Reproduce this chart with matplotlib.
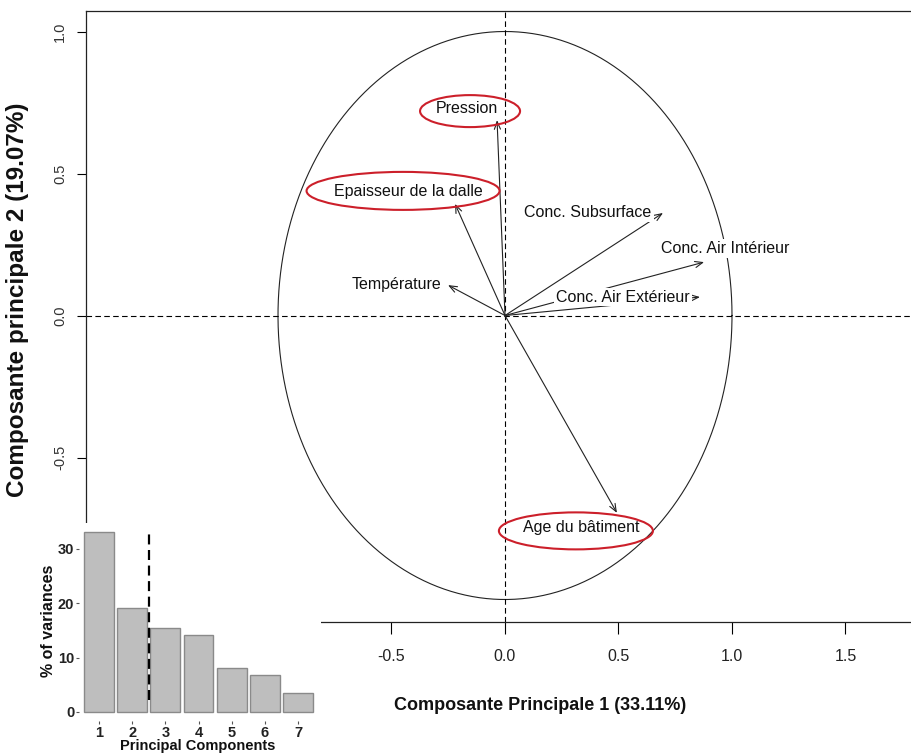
import numpy as np
import matplotlib
matplotlib.use("Agg")
import matplotlib.pyplot as plt
from matplotlib.patches import Ellipse, Rectangle

plt.rcParams['font.family'] = ['Liberation Sans', 'DejaVu Sans']

# ---------------- data ----------------
variables = ["Pression", "Epaisseur de la dalle", "Conc. Subsurface",
             "Conc. Air Intérieur", "Conc. Air Extérieur", "Température",
             "Age du bâtiment"]
pc1 = [-0.035, -0.220, 0.696, 0.877, 0.859, -0.251, 0.493]
pc2 = [0.688, 0.393, 0.361, 0.188, 0.065, 0.107, -0.695]
highlighted = ["Pression", "Epaisseur de la dalle", "Age du bâtiment"]

components = [1, 2, 3, 4, 5, 6, 7]
variances = [33.11, 19.07, 15.4, 14.1, 8.1, 6.8, 3.5]
cutoff = 2.5

xlabel_main = "Composante Principale 1 (33.11%)"
ylabel_main = "Composante principale 2 (19.07%)"
xticks_main = [-0.5, 0.0, 0.5, 1.0, 1.5]
yticks_main = [-0.5, 0.0, 0.5, 1.0]
inset_yticks = [0, 10, 20, 30]
inset_xlabel = "Principal Components"
inset_ylabel = "% of variances"

# ---------------- layout (pixels) ----------------
W, H = 912, 754
fig = plt.figure(figsize=(W / 100, H / 100), dpi=100)


def px_rect(l, t, r, b):
    return [l / W, 1 - b / H, (r - l) / W, (b - t) / H]


X0, SX, Y0, SY = 505, 227, 315.5, 284   # pixel origin and scale of the main plot

ax = fig.add_axes(px_rect(86, 11, 926, 621.7))
ax.set_xlim((86 - X0) / SX, (926 - X0) / SX)
ax.set_ylim((Y0 - 621.7) / SY, (Y0 - 11) / SY)
ax.set_zorder(0)

# label offsets from arrow tips (pixels) and highlight ellipse geometry
label_offsets = [(-30, 12), (-47, 12), (-75, 0), (21, 14), (-77, 0), (-52, 1), (-36, -15)]
ell_shift = {"Pression": (3, -3, 100, 32),
             "Epaisseur de la dalle": (-5, 1, 193, 38),
             "Age du bâtiment": (-5, -3, 154, 37)}

# unit circle
t = np.linspace(0, 2 * np.pi, 400)
ax.plot(np.cos(t), np.sin(t), color='#222222', lw=0.8, zorder=1)

# dashed axes through origin
ax.axhline(0, color='black', lw=0.8, ls=(0, (5, 3)), zorder=1)
ax.axvline(0, color='black', lw=0.8, ls=(0, (5, 3)), zorder=1)

for name, x, y, (dx, dy) in zip(variables, pc1, pc2, label_offsets):
    ax.annotate('', xy=(x, y), xytext=(0, 0),
                arrowprops=dict(arrowstyle='->,head_length=0.55,head_width=0.22',
                                lw=0.8, color='#222222', shrinkA=0, shrinkB=0),
                zorder=2)
    ax.annotate(name, xy=(x, y), xytext=(dx, dy), textcoords='offset pixels',
                ha='center', va='center', fontsize=11.5, color='#111111',
                bbox=dict(boxstyle='square,pad=0.12', fc='white', ec='none'),
                zorder=4)
    if name in highlighted:
        sx, sy, ew, eh = ell_shift[name]
        cx = x + (dx + sx) / SX
        cy = y + (dy + sy) / SY
        ax.add_patch(Ellipse((cx, cy), ew / SX, eh / SY, fill=False,
                             ec='#CC1F2A', lw=1.5, zorder=5))

ax.set_xticks(xticks_main)
ax.set_xticklabels([f"{v:.1f}" for v in xticks_main])
ax.set_yticks(yticks_main)
ax.set_yticklabels([f"{v:.1f}" for v in yticks_main])
ax.tick_params(axis='x', direction='out', length=8.5, width=0.8, pad=11,
               labelsize=11.5, labelcolor='#222222')
ax.tick_params(axis='y', direction='out', length=6.5, width=0.8, pad=7,
               labelsize=10.5, labelcolor='#333333', labelrotation=90)
for lab in ax.get_yticklabels():
    lab.set_va('center')
for s in ax.spines.values():
    s.set_linewidth(0.9)
    s.set_color('#222222')

fig.text(540 / W, 1 - 706 / H, xlabel_main, ha='center', va='center',
         fontsize=13, fontweight='bold', color='#111111')
fig.text(18 / W, 1 - 300 / H, ylabel_main, ha='center', va='center',
         rotation=90, fontsize=17.5, fontweight='bold', color='#111111')

# ---------------- inset scree plot ----------------
fig.add_artist(Rectangle((0, 0), 321 / W, (H - 524) / H, transform=fig.transFigure,
                         fc='white', ec='none', zorder=1))

axi = fig.add_axes(px_rect(79, 523, 318, 721))
axi.set_zorder(3)
axi.set_facecolor('white')
axi.bar(components, variances, width=0.9, color='#BEBEBE', edgecolor='#8A8A8A', lw=1.0)
axi.vlines(cutoff, 2.2, 33.0, colors='black', lw=1.6, linestyles=[(0, (4.5, 2.5))])
axi.set_xlim(0.4, 7.6)
axi.set_ylim(-1.66, 34.77)
for s in axi.spines.values():
    s.set_visible(False)
axi.set_xticks(components)
axi.set_yticks(inset_yticks)
axi.tick_params(axis='both', length=2.5, width=0.8, color='#555555', pad=1,
                labelsize=10.5, labelcolor='#222222')
for lab in axi.get_xticklabels() + axi.get_yticklabels():
    lab.set_fontweight('bold')

fig.text(198 / W, 1 - 746 / H, inset_xlabel, ha='center', va='center',
         fontsize=10.5, fontweight='bold', color='#111111', zorder=4)
fig.text(49 / W, 1 - 621 / H, inset_ylabel, ha='center', va='center', rotation=90,
         fontsize=11.5, fontweight='bold', color='#111111', zorder=4)

fig.savefig('out.png', dpi=100, facecolor='white')
